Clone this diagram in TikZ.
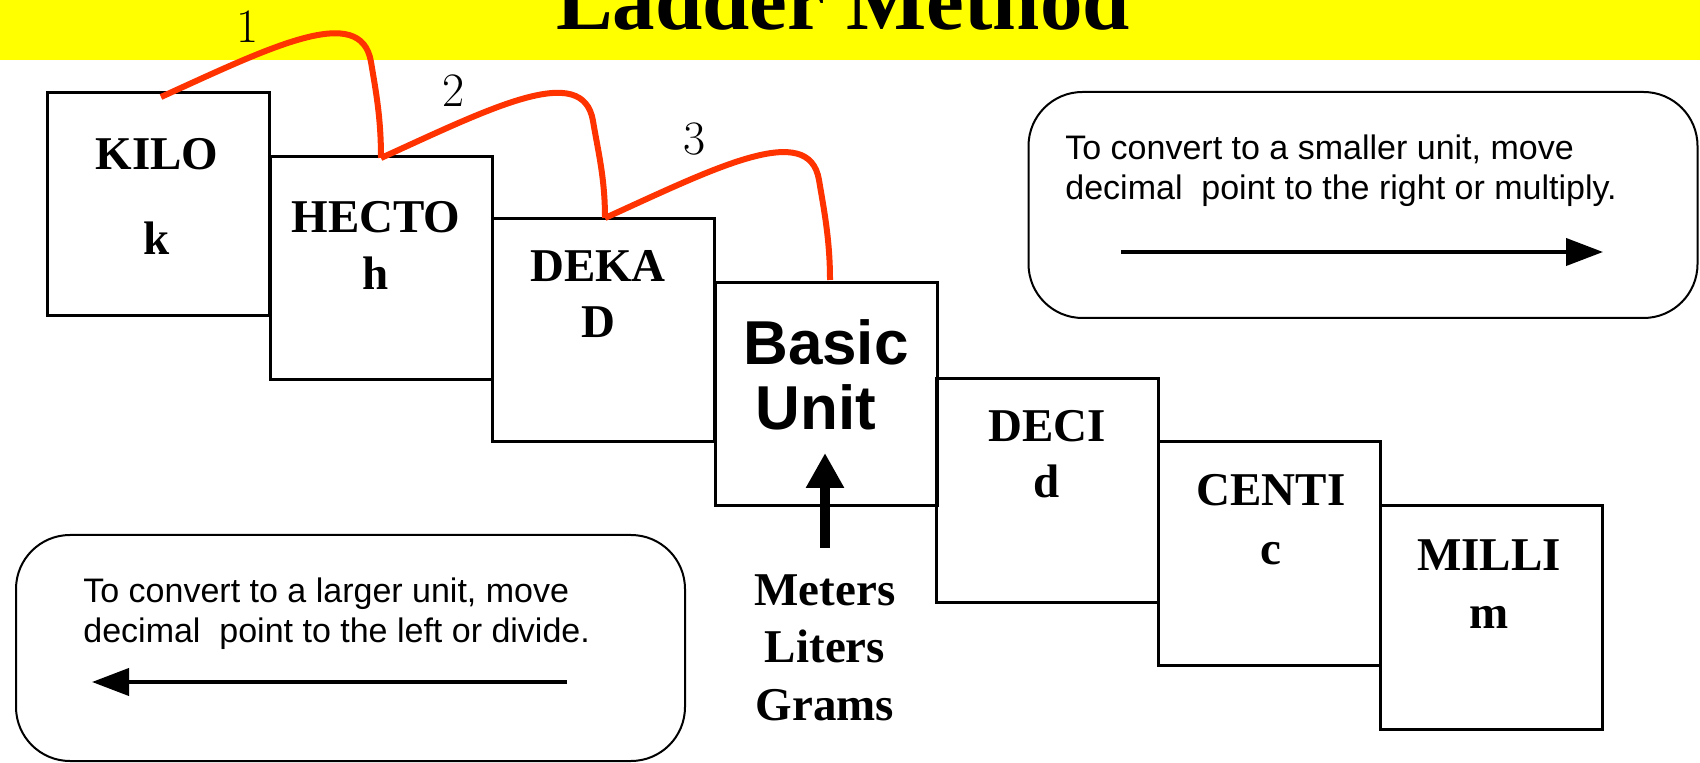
\documentclass[tikz,border=0pt]{standalone}
\usepackage{fontspec}
\usetikzlibrary{arrows.meta}
\newfontfamily\timesf{Liberation Serif}
\newfontfamily\arialf{Liberation Sans}
\definecolor{ladderred}{RGB}{255,51,0}
\definecolor{titleyellow}{RGB}{255,255,0}
\begin{document}
\begin{tikzpicture}[x=0.5pt,y=-0.5pt,
  rung/.style={draw,line width=1.5pt,minimum width=111pt,minimum height=111.5pt,inner sep=0pt},
  unitlabel/.style={font=\timesf\bfseries\fontsize{23.5}{28}\selectfont,anchor=base,inner sep=0pt},
  basetext/.style={font=\arialf\bfseries\fontsize{31}{33}\selectfont,anchor=base,inner sep=0pt},
  notebox/.style={draw,line width=1pt,rounded corners=27pt,inner sep=0pt},
  notetext/.style={font=\arialf\fontsize{17}{20}\selectfont,anchor=base west,inner sep=0pt},
  notearrow/.style={line width=2pt,-{Triangle[width=13.5pt,length=18.5pt]}},
  hop/.style={draw=ladderred,line width=3pt},
  hopnum/.style={font=\fontsize{24}{28}\selectfont,anchor=base,inner sep=0pt}]
\useasboundingbox (0,0) rectangle (1700,763);
% title band
\fill[titleyellow] (0,0) rectangle (1700,60);
\node[font=\timesf\bfseries\fontsize{42.5}{50}\selectfont,anchor=base,inner sep=0pt] (title) at (843,30) {Ladder Method};
% ladder boxes
\node[rung] (kilo)  at (158,204.5) {};
\node[rung] (hecto) at (381,268.5) {};
\node[rung] (deka)  at (603,330.5) {};
\node[rung] (basic) at (826,394.5) {};
\node[rung] (deci)  at (1047,490.5) {};
\node[rung] (centi) at (1269,553.5) {};
\node[rung] (milli) at (1491,617.5) {};
% labels
\node[unitlabel] (tkilo) at (157,170) {KILO};
\node[unitlabel] (lkilo) at (157,255) {k};
\node[unitlabel] (thecto) at (376,233) {HECTO};
\node[unitlabel] (lhecto) at (376,290) {h};
\node[unitlabel] (tdeka) at (598,282) {DEKA};
\node[unitlabel] (ldeka) at (598,338) {D};
\node[basetext] (tbasic) at (826,365) {Basic};
\node[basetext] (tunit) at (816,430) {Unit};
\node[unitlabel] (tdeci) at (1047,442) {DECI};
\node[unitlabel] (ldeci) at (1047,498) {d};
\node[unitlabel] (tcenti) at (1271,506) {CENTI};
\node[unitlabel] (lcenti) at (1271,565) {c};
\node[unitlabel] (tmilli) at (1489,570) {MILLI};
\node[unitlabel] (lmilli) at (1489,628) {m};
% base units
\node[unitlabel] (meters) at (825,605) {Meters};
\node[unitlabel] (liters) at (825,662) {Liters};
\node[unitlabel] (grams) at (825,720) {Grams};
\coordinate (upfoot) at (825,548);
\coordinate (uptip) at (825,453);
\draw[line width=5pt,-{Triangle[width=18pt,length=17.5pt]}] (upfoot) -- (uptip);
% red hops
\coordinate (r0) at (161,97);
\coordinate (r1) at (381,158);
\coordinate (r2) at (605,218);
\coordinate (r3) at (830,280);
\draw[hop] (r0) .. controls +(110,-50) and +(-10,-60) .. ++(210,-35) .. controls +(5,30) and +(0,-40) .. (r1);
\draw[hop] (r1) .. controls +(110,-50) and +(-10,-60) .. ++(212,-37) .. controls +(5,30) and +(0,-40) .. (r2);
\draw[hop] (r2) .. controls +(110,-50) and +(-10,-60) .. ++(214,-38) .. controls +(5,30) and +(0,-40) .. (r3);
\node[hopnum] (n1) at (248,43) {1};
\node[hopnum] (n2) at (454,107) {2};
\node[hopnum] (n3) at (695,155) {3};
% note boxes
\node[notebox,minimum width=334.5pt,minimum height=113pt] (smaller) at (1363,205) {};
\node[notetext] (s1) at (1065,160) {To convert to a smaller unit, move};
\node[notetext] (s2) at (1065,200) {decimal\ \ point to the right or multiply.};
\coordinate (sa) at (1121,252);
\coordinate (sb) at (1603,252);
\draw[notearrow] (sa) -- (sb);
\node[notebox,minimum width=334.5pt,minimum height=113pt] (larger) at (350.5,648) {};
\node[notetext] (l1) at (83,602) {To convert to a larger unit, move};
\node[notetext] (l2) at (83,642) {decimal\ \ point to the left or divide.};
\coordinate (la) at (567,682);
\coordinate (lb) at (92,682);
\draw[notearrow] (la) -- (lb);
\end{tikzpicture}
\end{document}
